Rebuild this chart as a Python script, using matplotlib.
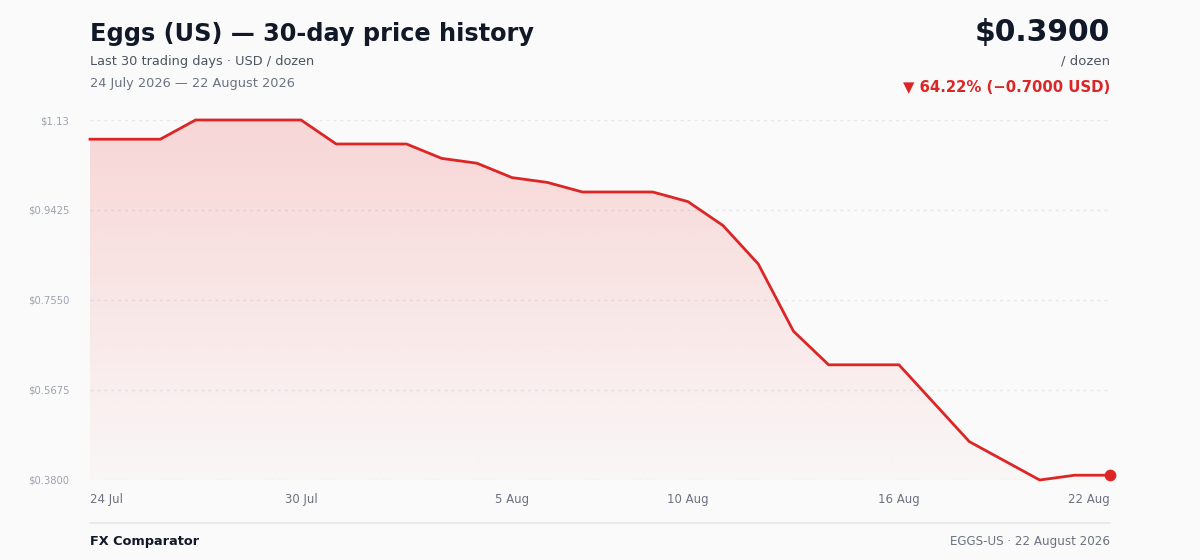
import matplotlib
matplotlib.use("Agg")
import matplotlib.pyplot as plt
import matplotlib.dates as mdates
import numpy as np
import pandas as pd
from matplotlib.patches import Polygon

plt.rcParams['font.family'] = ['DejaVu Sans']

dates = pd.date_range("2026-07-24", "2026-08-22", freq="D")
prices = [1.09, 1.09, 1.09, 1.13, 1.13, 1.13, 1.13, 1.08, 1.08, 1.08,
          1.05, 1.04, 1.01, 1.00, 0.98, 0.98, 0.98, 0.96, 0.91, 0.83,
          0.69, 0.62, 0.62, 0.62, 0.54, 0.46, 0.42, 0.38, 0.39, 0.39]
ytick_vals = [0.38, 0.5675, 0.755, 0.9425, 1.13]
ytick_labels = ["$0.3800", "$0.5675", "$0.7550", "$0.9425", "$1.13"]
xtick_dates = pd.to_datetime(["2026-07-24", "2026-07-30", "2026-08-05",
                              "2026-08-10", "2026-08-16", "2026-08-22"])
xtick_labels = ["24 Jul", "30 Jul", "5 Aug", "10 Aug", "16 Aug", "22 Aug"]

RED = "#dc2626"
BG = "#fafafa"
W, H = 1200, 560

fig = plt.figure(figsize=(12, 5.6), dpi=100, facecolor=BG)
ax = fig.add_axes([90 / W, 1 - 480 / H, 1020 / W, 360 / H])
ax.set_facecolor(BG)

x = mdates.date2num(dates)
y = np.array(prices)
ymin, ymax = 0.38, 1.13
ax.set_xlim(x[0], x[-1])
ax.set_ylim(ymin, ymax)

# gradient fill
verts = [(x[0], ymin)] + list(zip(x, y)) + [(x[-1], ymin)]
poly = Polygon(verts, closed=True, facecolor="none", edgecolor="none")
ax.add_patch(poly)
grad = np.linspace(0.20, 0.02, 256).reshape(-1, 1)
rgba = np.zeros((256, 1, 4))
rgba[..., 0] = 0xef / 255
rgba[..., 1] = 0x44 / 255
rgba[..., 2] = 0x44 / 255
rgba[..., 3] = grad
im = ax.imshow(rgba, aspect="auto", extent=[x[0], x[-1], ymin, ymax],
               origin="upper", zorder=1, interpolation="bilinear")
im.set_clip_path(poly)

ax.plot(x, y, color=RED, lw=2, zorder=3, clip_on=False, solid_joinstyle="round")
ax.scatter([x[-1]], [y[-1]], s=55, color=RED, zorder=4, clip_on=False)

ax.set_yticks(ytick_vals)
ax.set_yticklabels(ytick_labels)
ax.yaxis.grid(True, color="#e5e7eb", linestyle=(0, (2, 3)), lw=1)
ax.set_axisbelow(True)
ax.tick_params(axis="y", length=0, pad=15, labelsize=7.2, labelcolor="#9ca3af")

xt = mdates.date2num(xtick_dates)
ax.set_xticks(xt)
ax.set_xticklabels(xtick_labels)
ax.tick_params(axis="x", length=0, pad=9, labelsize=8.5, labelcolor="#6b7280")
labs = ax.get_xticklabels()
labs[0].set_horizontalalignment("left")
labs[-1].set_horizontalalignment("right")

for s in ax.spines.values():
    s.set_visible(False)

def fy(py):
    return 1 - py / H

fig.text(90 / W, fy(34), "Eggs (US) — 30-day price history", fontsize=17.3,
         fontweight="bold", color="#111827", va="center", ha="left")
fig.text(90 / W, fy(61), "Last 30 trading days · USD / dozen", fontsize=9.25,
         color="#4b5563", va="center", ha="left")
fig.text(90 / W, fy(83), "24 July 2026 — 22 August 2026", fontsize=9.3,
         color="#6b7280", va="center", ha="left")

fig.text(1110 / W, fy(32), "$0.3900", fontsize=21.4, fontweight="bold",
         color="#111827", va="center", ha="right")
fig.text(1110 / W, fy(61), "/ dozen", fontsize=9.5, color="#4b5563",
         va="center", ha="right")
fig.text(1110 / W, fy(87), "▼ 64.22% (−0.7000 USD)", fontsize=10.75,
         fontweight="bold", color=RED, va="center", ha="right")

fig.add_artist(plt.Line2D([90 / W, 1110 / W], [fy(523), fy(523)],
                          color="#e5e7eb", lw=1.2))
fig.text(90 / W, fy(541), "FX Comparator", fontsize=9.25, fontweight="bold",
         color="#111827", va="center", ha="left")
fig.text(1110 / W, fy(541), "EGGS-US · 22 August 2026", fontsize=8.6,
         color="#6b7280", va="center", ha="right")

fig.savefig("out.png", dpi=100, facecolor=BG)
